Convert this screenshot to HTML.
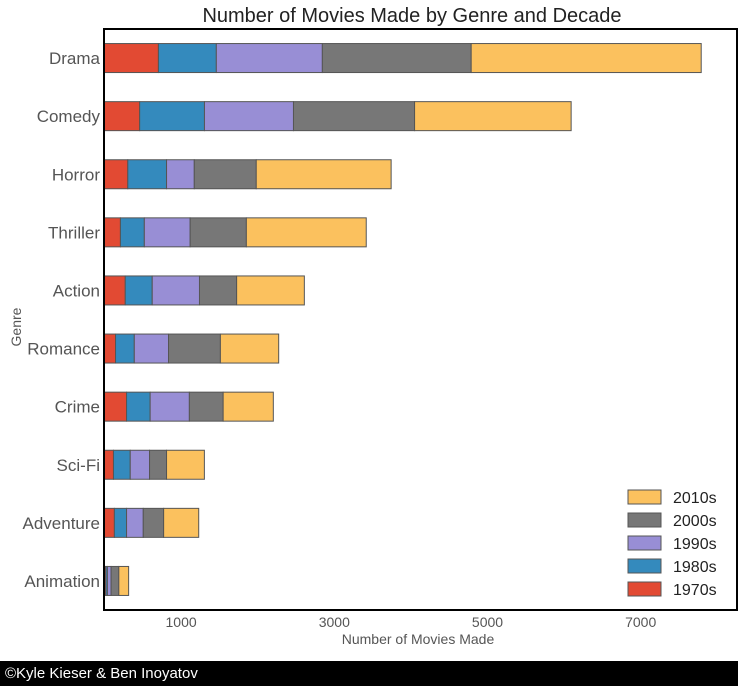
<!DOCTYPE html>
<html><head><meta charset="utf-8"><style>
body{margin:0;background:#fff;width:740px;height:686px;overflow:hidden;font-family:"Liberation Sans",sans-serif}
</style></head><body>
<svg id="chart" width="740" height="686" xmlns="http://www.w3.org/2000/svg" font-family="Liberation Sans, sans-serif">
<text x="412" y="22" font-size="20" text-anchor="middle" fill="#222">Number of Movies Made by Genre and Decade</text>
<g id="bars"></g>
<rect x="104" y="29" width="633" height="581" fill="none" stroke="#000" stroke-width="2"/>
<g id="yticks"></g><g id="xticks"></g>
<text x="418" y="644" font-size="14" text-anchor="middle" fill="#555">Number of Movies Made</text>
<text x="21" y="327" font-size="14" text-anchor="middle" fill="#555" transform="rotate(-90 21 327)">Genre</text>
<g id="legend"></g>
<rect x="0" y="661" width="738" height="25" fill="#000"/>
<text x="5" y="678" font-size="15" fill="#fff">©Kyle Kieser &amp; Ben Inoyatov</text>
</svg>
<script>
const genres=["Drama","Comedy","Horror","Thriller","Action","Romance","Crime","Sci-Fi","Adventure","Animation"];
const decades=["1970s","1980s","1990s","2000s","2010s"];
const colors=["#e24a33","#348abd","#988ed5","#777777","#fbc15e"];
const v1970=[704,459,304,208,271,144,288,117,129,17];
const v1980=[756,846,506,312,352,245,308,219,159,21];
const v1990=[1384,1162,362,598,617,447,512,252,218,48];
const v2000=[1943,1581,809,734,485,677,441,222,266,101];
const v2010=[3003,2044,1761,1565,884,761,655,494,458,128];
const xTicks=[1000,3000,5000,7000];
const series=[v1970,v1980,v1990,v2000,v2010];
const NS="http://www.w3.org/2000/svg";
const xs=v=>104.5+v*0.0766;
const plotTop=29,band=58.1;
const ys=i=>plotTop+band*(i+0.5);
function mk(t,a){const e=document.createElementNS(NS,t);for(const k in a)e.setAttribute(k,a[k]);return e;}
const bars=document.getElementById('bars');
genres.forEach((g,i)=>{let acc=0;series.forEach((s,j)=>{const r=mk('rect',{x:xs(acc),y:ys(i)-14.5,width:xs(acc+s[i])-xs(acc),height:29,fill:colors[j],stroke:'#555','stroke-width':1});


bars.appendChild(r);acc+=s[i];});
const t=mk('text',{x:100,y:ys(i)+6,'font-size':17,'text-anchor':'end',fill:'#555'});t.textContent=g;


document.getElementById('yticks').appendChild(t);});
xTicks.forEach(v=>{const t=mk('text',{x:xs(v),y:627,'font-size':14,'text-anchor':'middle',fill:'#555'});t.textContent=v;


document.getElementById('xticks').appendChild(t);});
const lg=document.getElementById('legend');
[4,3,2,1,0].forEach((j,k)=>{const yy=490+k*23;const r=mk('rect',{x:628,y:yy,width:33,height:14,fill:colors[j],stroke:'#555'});


lg.appendChild(r);const t=mk('text',{x:673,y:yy+13,'font-size':16,fill:'#222'});t.textContent=decades[j];


lg.appendChild(t);});
</script>
</body></html>
